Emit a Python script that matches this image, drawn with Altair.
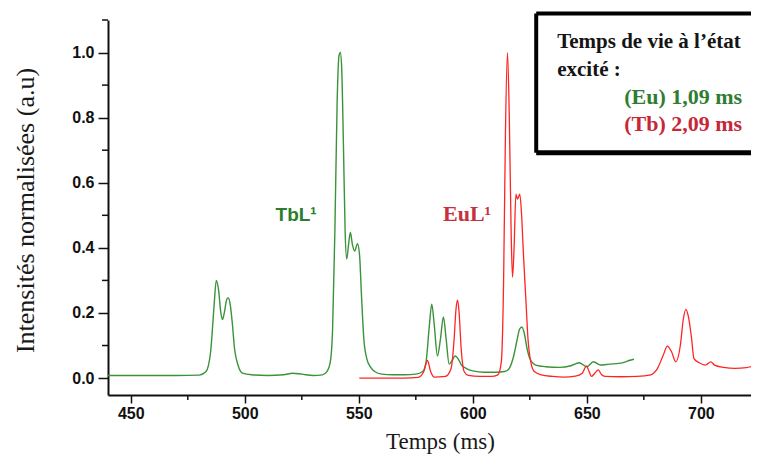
import altair as alt
import pandas as pd

# ---- data ----
tb_t = [440, 470, 480, 483, 485, 486.5, 487.5, 488.5, 489.5, 490.2, 491, 492, 492.7, 493.5, 494.5,
        495.5, 497, 499, 503, 510, 517, 521, 525, 530, 534, 536, 537.5, 538.5, 539.5, 540.5,
        541.3, 541.9, 542.5, 543.3, 544, 544.7, 545.5, 546.3, 547.2, 548.2, 549.4, 550.3, 551.2,
        552.2, 553.5, 555, 557, 560, 565, 570, 575, 578, 579.5, 580.8, 582, 583, 584.5, 585.8,
        587.1, 588.3, 589.6, 591, 592.2, 593.5, 595, 597, 600, 605, 610, 614, 616, 618, 619.5,
        620.5, 621.5, 622.5, 623.8, 625, 627.6, 632, 638, 643, 646.6, 650, 652.9, 656, 660, 664,
        667, 668.5, 670.7]
tb_v = [0.008, 0.008, 0.009, 0.02, 0.08, 0.22, 0.30, 0.27, 0.2, 0.18, 0.2, 0.24, 0.247, 0.23, 0.17,
        0.09, 0.04, 0.015, 0.01, 0.008, 0.01, 0.015, 0.012, 0.008, 0.01, 0.02, 0.05, 0.15, 0.45, 0.85,
        0.99, 1.0, 0.95, 0.7, 0.45, 0.366, 0.41, 0.447, 0.41, 0.39, 0.413, 0.38, 0.25,
        0.12, 0.06, 0.035, 0.02, 0.012, 0.01, 0.01, 0.012, 0.02, 0.05, 0.15, 0.227, 0.17, 0.068, 0.12,
        0.188, 0.12, 0.043, 0.055, 0.068, 0.06, 0.04, 0.03, 0.022, 0.018, 0.018, 0.02, 0.03, 0.07, 0.12,
        0.15, 0.157, 0.14, 0.09, 0.06, 0.04, 0.035, 0.033, 0.038, 0.047, 0.035, 0.05, 0.04, 0.043, 0.045,
        0.05, 0.054, 0.058]

eu_t = [550.2, 560, 570, 576, 578.5, 580.1, 581.5, 583, 588, 590.5, 591.8, 592.6, 593.3, 594, 594.8,
        596.2, 598, 603, 608, 611, 612.5, 613.5, 614.3, 615.2, 616, 616.8, 617.4, 618.1, 618.9, 619.6,
        620.6, 621.4, 622.2, 623.2, 624.2, 625.4, 627, 630, 635, 640, 645, 648, 649.8, 651, 652,
        653.5, 655, 656.5, 658, 665, 672, 678, 681, 683.5, 685.3, 687.2, 689, 691, 692.3, 693.4,
        694.5, 695.8, 697, 699.3, 702, 704.4, 706, 710, 715, 720, 722]
eu_v = [0.0, 0.0, 0.0, 0.002, 0.02, 0.054, 0.02, 0.003, 0.005, 0.03, 0.12, 0.21, 0.239, 0.2, 0.1,
        0.02, 0.008, 0.005, 0.005, 0.01, 0.05, 0.3, 0.75, 1.0, 0.8, 0.45, 0.31, 0.4, 0.565, 0.55,
        0.565, 0.5, 0.38, 0.25, 0.12, 0.05, 0.02, 0.01, 0.005, 0.003, 0.006, 0.015, 0.037, 0.02, 0.005,
        0.015, 0.025, 0.01, 0.005, 0.004, 0.005, 0.01, 0.03, 0.07, 0.098, 0.08, 0.05, 0.1, 0.18, 0.211,
        0.19, 0.13, 0.06, 0.047, 0.04, 0.05, 0.04, 0.033, 0.03, 0.032, 0.035]

x_major = [450, 500, 550, 600, 650, 700]
x_minor = [475, 525, 575, 625, 675]
y_major = [0.0, 0.2, 0.4, 0.6, 0.8, 1.0]
y_minor = [0.1, 0.3, 0.5, 0.7, 0.9, 1.1]

GREEN = "#3a933a"
RED = "#ff2424"
SERIF = "Liberation Serif"
SANS = "Liberation Sans"

df_tb = pd.DataFrame({"t": tb_t, "v": tb_v})
df_eu = pd.DataFrame({"t": eu_t, "v": eu_v})

xs = alt.Scale(domain=[440, 722], nice=False, zero=False)
ys = alt.Scale(domain=[-0.052, 1.1], nice=False, zero=False)

x_enc = alt.X("t:Q", scale=xs, title="Temps (ms)",
              axis=alt.Axis(values=x_major, format="d", grid=False, tickSize=8, tickWidth=1.5,
                            tickColor="#111", domainColor="#111", domainWidth=2,
                            labelFont=SANS, labelFontSize=16, labelFontWeight="bold",
                            labelColor="#111", labelPadding=2,
                            titleFont=SERIF, titleFontSize=23, titleFontWeight="normal",
                            titleColor="#1a1a1a", titleX=332, titleY=53,
                            titleAlign="center", titleBaseline="alphabetic"))
y_enc = alt.Y("v:Q", scale=ys, title="Intensités normalisées (a.u)",
              axis=alt.Axis(values=y_major, format=".1f", grid=False, tickSize=10, tickWidth=1.5,
                            tickColor="#111", domainColor="#111", domainWidth=2,
                            labelFont=SANS, labelFontSize=16, labelFontWeight="bold",
                            labelColor="#111", labelPadding=4,
                            titleFont=SERIF, titleFontSize=26, titleFontWeight="normal",
                            titleColor="#1a1a1a", titleX=-83, titleY=190, titleAngle=-90,
                            titleAlign="center", titleBaseline="middle"))

tb_line = alt.Chart(df_tb).mark_line(color=GREEN, strokeWidth=1.4, interpolate="monotone").encode(
    x=x_enc, y=y_enc)
eu_line = alt.Chart(df_eu).mark_line(color=RED, strokeWidth=1.3, interpolate="monotone").encode(
    x=x_enc, y=y_enc)

yminor = alt.Chart(pd.DataFrame({"v": y_minor})).mark_rule(color="#111", strokeWidth=1.5).encode(
    y=alt.Y("v:Q", scale=ys), x=alt.value(-6), x2=alt.value(0))
xminor = alt.Chart(pd.DataFrame({"t": x_minor})).mark_rule(color="#111", strokeWidth=1.5).encode(
    x=alt.X("t:Q", scale=xs), y=alt.value(375), y2=alt.value(380))

# annotation box
BX0, BX1, BY0, BY1 = 627.8, 722, 0.692, 1.12
box_fill = alt.Chart().mark_rect(fill="white").encode(
    x=alt.datum(BX0), x2=alt.datum(BX1), y=alt.datum(BY0), y2=alt.datum(BY1))
box_top = alt.Chart().mark_rule(color="black", strokeWidth=4).encode(
    x=alt.datum(BX0), x2=alt.datum(BX1), y=alt.datum(BY1))
box_bottom = alt.Chart().mark_rule(color="black", strokeWidth=5).encode(
    x=alt.datum(BX0), x2=alt.datum(BX1), y=alt.datum(BY0))
box_left = alt.Chart().mark_rule(color="black", strokeWidth=4).encode(
    x=alt.datum(BX0), y=alt.datum(BY0), y2=alt.datum(BY1))

def txt(s, x, y, color, font, size, weight="bold", align="left"):
    return alt.Chart().mark_text(text=s, font=font, fontSize=size, fontWeight=weight, color=color,
                                 align=align, baseline="alphabetic").encode(
        x=alt.datum(x), y=alt.datum(y))

texts = [
    txt("Temps de vie à l’état", 637, 1.015, "#151515", SERIF, 21),
    txt("excité :", 637, 0.929, "#151515", SERIF, 21),
    txt("(Eu)  1,09 ms", 666.4, 0.843, "#2e7d32", SERIF, 22),
    txt("(Tb)  2,09 ms", 666.4, 0.76, "#c62838", SERIF, 22),
    txt("TbL¹", 522.5, 0.483, "#2a7d2a", SANS, 19, align="center"),
    txt("EuL¹", 597.5, 0.483, "#c4323f", SERIF, 22, align="center"),
]

chart = alt.layer(
    tb_line, eu_line, yminor, xminor, box_fill, box_top, box_bottom, box_left, *texts
).properties(
    width=643, height=375,
    autosize=alt.AutoSizeParams(type="none"),
    padding={"left": 100, "top": 12, "right": 0, "bottom": 70},
    background="white",
).configure_view(stroke=None)

chart.save("out.html", embed_options={"renderer": "svg", "actions": False})
